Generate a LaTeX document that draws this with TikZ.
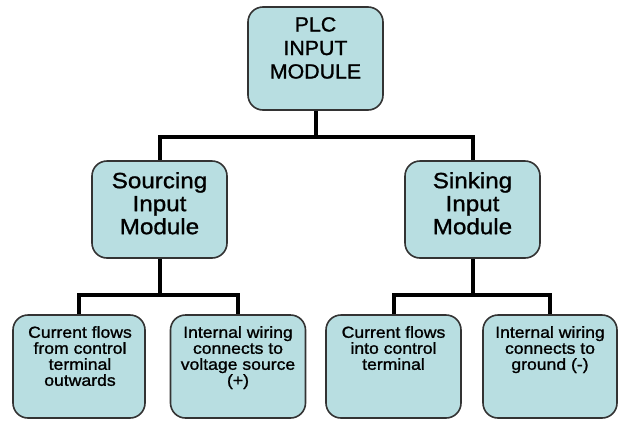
\documentclass[tikz,border=0pt]{standalone}
\usepackage{fontspec}
\setmainfont{Liberation Sans}
\newfontfamily\topfont[FakeStretch=1.04, FakeBold=1.2]{Liberation Sans}
\newfontfamily\midfont[FakeStretch=1.1, FakeBold=1.2]{Liberation Sans}
\newfontfamily\lowfont[FakeStretch=1.1, FakeBold=1.2]{Liberation Sans}
\definecolor{boxfill}{HTML}{B8DEE1}
\definecolor{boxline}{HTML}{333333}
\tikzset{
  module/.style={draw=boxline, line width=1.6pt, fill=boxfill,
    rounded corners=15pt, minimum width=135pt, inner sep=0pt},
  wire/.style={line width=4pt, black, line join=miter},
  toptext/.style={anchor=north, align=center, inner sep=0pt,
    font=\topfont\fontsize{20.5}{23.5}\selectfont},
  midtext/.style={anchor=north, align=center, inner sep=0pt,
    font=\midfont\fontsize{22}{23}\selectfont},
  lowtext/.style={anchor=north, align=center, inner sep=0pt,
    font=\lowfont\fontsize{16}{16}\selectfont},
}
\begin{document}
\begin{tikzpicture}[x=1pt, y=-1pt]
  \useasboundingbox (0,0) rectangle (621,421);
  \fill[white] (0,0) rectangle (621,421);

  % boxes
  \node[module, minimum height=103pt] (top) at (315.5,58.5) {};
  \node[module, minimum height=97pt] (src) at (159.5,209.5) {};
  \node[module, minimum height=97pt] (snk) at (472.5,209.5) {};
  \node[module, minimum width=132pt, minimum height=103pt] (b1) at (79,366.5) {};
  \node[module, minimum height=103pt] (b2) at (238,366.5) {};
  \node[module, minimum height=103pt] (b3) at (393.5,366.5) {};
  \node[module, minimum width=134pt, minimum height=103pt] (b4) at (550,366.5) {};

  % labels
  \node[toptext] (topt) at (315.5,17) {PLC\\INPUT\\MODULE};
  \node[midtext] (srct) at (159.5,172) {Sourcing\\Input\\Module};
  \node[midtext] (snkt) at (472.5,172) {Sinking\\Input\\Module};
  \node[lowtext] (b1t) at (80,326) {Current flows\\from control\\terminal\\outwards};
  \node[lowtext] (b2t) at (238,326) {Internal wiring\\connects to\\voltage source\\(+)};
  \node[lowtext] (b3t) at (393.5,326) {Current flows\\into control\\terminal};
  \node[lowtext] (b4t) at (550,326) {Internal wiring\\connects to\\ground (-)};

  % connectors
  \coordinate (j0) at (315.5,137);
  \coordinate (j1) at (159.5,295);
  \coordinate (j2) at (472.5,295);
  \draw[wire] (top.south) -- (j0);
  \draw[wire] (j0) -| (src.north);
  \draw[wire] (j0) -| (snk.north);
  \draw[wire] (src.south) -- (j1);
  \draw[wire] (j1) -| (b1.north);
  \draw[wire] (j1) -| (b2.north);
  \draw[wire] (snk.south) -- (j2);
  \draw[wire] (j2) -| (b3.north);
  \draw[wire] (j2) -| (b4.north);
\end{tikzpicture}
\end{document}
